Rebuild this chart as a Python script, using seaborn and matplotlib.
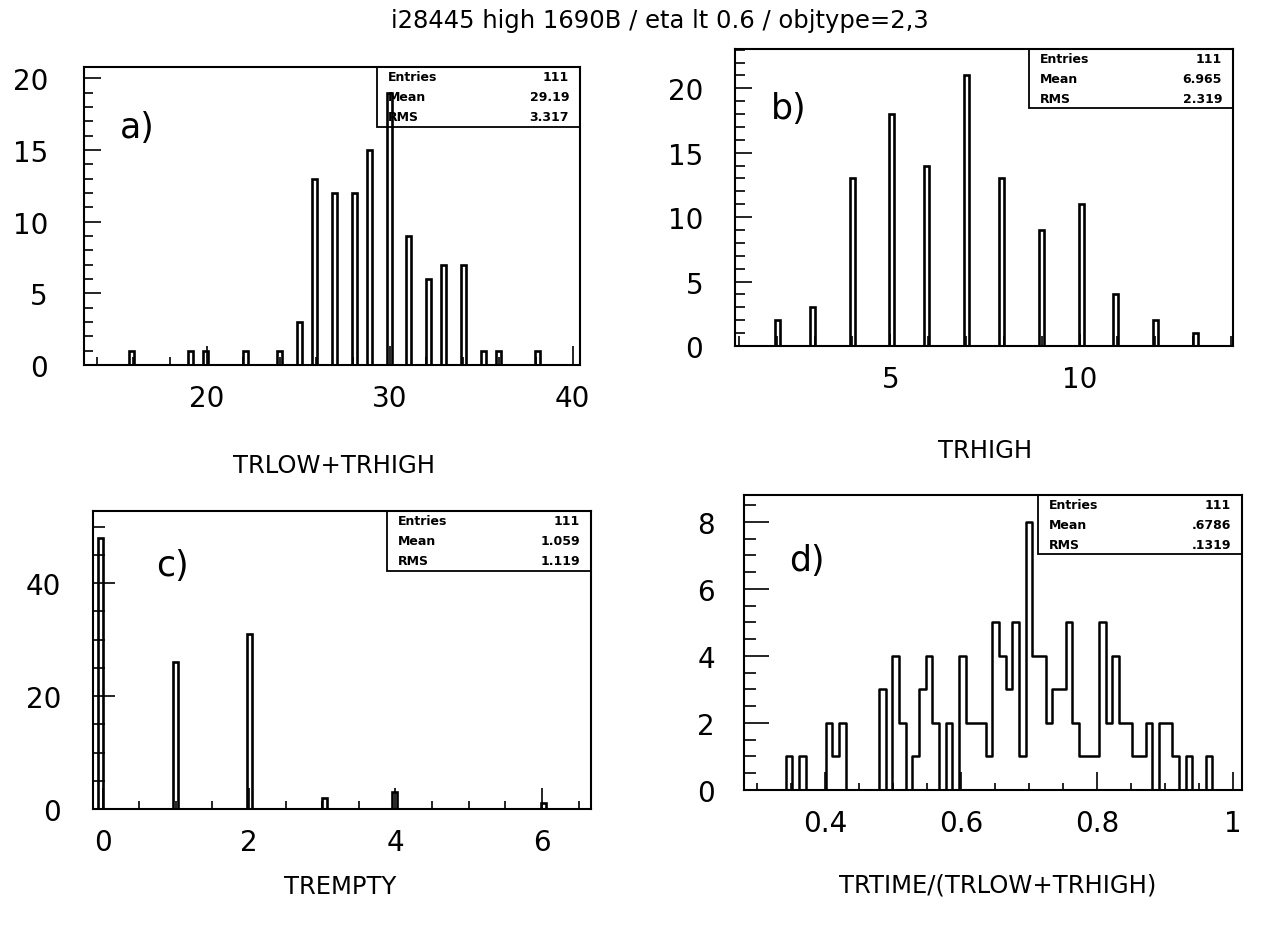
import numpy as np
import pandas as pd
import matplotlib
matplotlib.use("Agg")
import matplotlib.pyplot as plt
import seaborn as sns
from matplotlib.ticker import MultipleLocator, FuncFormatter
from matplotlib.patches import Rectangle

# ---------------- data ----------------
title = "i28445 high 1690B / eta lt 0.6 / objtype=2,3"

# a) TRLOW+TRHIGH
a_values = [16, 19, 20, 22, 24, 25, 26, 27, 28, 29, 30, 31, 32, 33, 34, 35, 36, 38]
a_counts = [1, 1, 1, 1, 1, 3, 13, 12, 12, 15, 19, 9, 6, 7, 7, 1, 1, 1]
a_stats = ["111", "29.19", "3.317"]

# b) TRHIGH
b_values = [2, 3, 4, 5, 6, 7, 8, 9, 10, 11, 12, 13]
b_counts = [2, 3, 13, 18, 14, 21, 13, 9, 11, 4, 2, 1]
b_stats = ["111", "6.965", "2.319"]

# c) TREMPTY
c_values = [0, 1, 2, 3, 4, 6]
c_counts = [48, 26, 31, 2, 3, 1]
c_stats = ["111", "1.059", "1.119"]

# d) TRTIME/(TRLOW+TRHIGH)  (bin centres, counts)
d_values = [0.3472, 0.3668, 0.4060, 0.4158, 0.4256, 0.4844, 0.5040, 0.5138,
            0.5334, 0.5432, 0.5530, 0.5628, 0.5824, 0.6020, 0.6118, 0.6216,
            0.6314, 0.6412, 0.6510, 0.6608, 0.6706, 0.6804, 0.6902, 0.7000,
            0.7098, 0.7196, 0.7294, 0.7392, 0.7490, 0.7588, 0.7686, 0.7784,
            0.7882, 0.7980, 0.8078, 0.8176, 0.8274, 0.8372, 0.8470, 0.8568,
            0.8666, 0.8764, 0.8960, 0.9058, 0.9156, 0.9352, 0.9646]
d_counts = [1, 1, 2, 1, 2, 3, 4, 2,
            1, 3, 4, 2, 2, 4, 2, 2,
            2, 1, 5, 4, 3, 5, 1, 8,
            4, 4, 2, 3, 3, 5, 2, 1,
            1, 1, 5, 2, 4, 2, 2, 1,
            1, 2, 2, 2, 1, 1, 1]
d_stats = ["111", ".6786", ".1319"]

stat_names = ["Entries", "Mean", "RMS"]
x_titles = ["TRLOW+TRHIGH", "TRHIGH", "TREMPTY", "TRTIME/(TRLOW+TRHIGH)"]
panel_tags = ["a)", "b)", "c)", "d)"]

# ---------------- style ----------------
sns.set_style("white")
plt.rcParams["font.family"] = ["DejaVu Sans"]
plt.rcParams["axes.linewidth"] = 1.5
plt.rcParams["text.color"] = "black"
plt.rcParams["axes.labelcolor"] = "black"
plt.rcParams["xtick.color"] = "black"
plt.rcParams["ytick.color"] = "black"

fig = plt.figure(figsize=(12.63, 9.28), dpi=100)

W, H = 1263.0, 928.0
def axes_rect(l, t, r, b):
    return [l / W, 1 - b / H, (r - l) / W, (b - t) / H]

cfg = [
    dict(vals=a_values, cnts=a_counts, stats=a_stats, rect=axes_rect(84, 68, 580, 366),
         xlim=(13.3, 40.4), ymax=20.8, xmaj=10, xmin=2, ymaj=5, ymin=1,
         xtl=(14, 6), ytl=(12, 6.5), bins=("lin", 100), elem="bars",
         tag=(0.107, 0.80), lab=(0.505, -0.335), ypad=26),
    dict(vals=b_values, cnts=b_counts, stats=b_stats, rect=axes_rect(735, 50, 1233, 347),
         xlim=(0.9, 14.05), ymax=23.05, xmaj=5, xmin=1, ymaj=5, ymin=1,
         xtl=(9, 7), ytl=(12, 7), bins=("lin", 100), elem="bars",
         tag=(0.107, 0.80), lab=(0.502, -0.35), ypad=23),
    dict(vals=c_values, cnts=c_counts, stats=c_stats, rect=axes_rect(93, 512, 591, 810),
         xlim=(-0.13, 6.67), ymax=52.8, xmaj=2, xmin=0.5, ymaj=20, ymin=5,
         xtl=(15, 6), ytl=(16, 8.5), bins=("lin", 100), elem="bars",
         tag=(0.16, 0.82), lab=(0.496, -0.26), ypad=23),
    dict(vals=d_values, cnts=d_counts, stats=d_stats, rect=axes_rect(744, 496, 1242, 791),
         xlim=(0.281, 1.013), ymax=8.8, xmaj=0.2, xmin=0.05, ymaj=2, ymin=0.5,
         xtl=(13, 5), ytl=(18, 8.5), bins=("step", 0.0098, 0.70), elem="step",
         tag=(0.127, 0.78), lab=(0.51, -0.32), ypad=21),
]

for i, c in enumerate(cfg):
    ax = fig.add_axes(c["rect"])
    lo, hi = c["xlim"]
    if c["bins"][0] == "lin":
        edges = np.linspace(lo, hi, c["bins"][1] + 1)
    else:
        w, ref = c["bins"][1], c["bins"][2]
        edges = ref - w / 2 + w * np.arange(-44, 34)
    edges = [float(e) for e in edges]
    df = pd.DataFrame({"value": np.asarray(c["vals"], dtype=float),
                       "count": np.asarray(c["cnts"], dtype=float)})
    lw = 1.9 if c["elem"] == "bars" else 1.8
    sns.histplot(data=df, x="value", weights="count", bins=edges, element=c["elem"],
                 fill=False, color="black", linewidth=lw, ax=ax)
    ax.set_xlim(lo, hi)
    ax.set_ylim(0, c["ymax"])
    ax.set_ylabel("")
    ax.set_xlabel(x_titles[i], fontsize=17.5, color="black")
    ax.xaxis.set_label_coords(*c["lab"])
    ax.xaxis.label.set_va("center")

    for s in ax.spines.values():
        s.set_visible(True)
        s.set_color("black")
        s.set_linewidth(1.5)

    ax.xaxis.set_major_locator(MultipleLocator(c["xmaj"]))
    ax.xaxis.set_minor_locator(MultipleLocator(c["xmin"]))
    ax.yaxis.set_major_locator(MultipleLocator(c["ymaj"]))
    ax.yaxis.set_minor_locator(MultipleLocator(c["ymin"]))
    ax.xaxis.set_major_formatter(FuncFormatter(lambda v, p: "%g" % round(v, 6)))
    ax.tick_params(axis="both", which="both", direction="in", colors="black",
                   top=False, right=False, bottom=True, left=True, width=1.2)
    ax.tick_params(axis="x", which="major", length=c["xtl"][0], pad=14, labelsize=20)
    ax.tick_params(axis="x", which="minor", length=c["xtl"][1])
    ax.tick_params(axis="y", which="major", length=c["ytl"][0], pad=c["ypad"], labelsize=20)
    ax.tick_params(axis="y", which="minor", length=c["ytl"][1])
    ax.grid(False)

    # statistics box
    bw, bh = 0.41, 0.20
    ax.add_patch(Rectangle((1 - bw, 1 - bh), bw, bh, transform=ax.transAxes,
                           fill=False, edgecolor="black", linewidth=1.3, clip_on=False,
                           zorder=5))
    for j, (nm, val) in enumerate(zip(stat_names, c["stats"])):
        yy = 1 - bh * (1 + 2 * j) / 6.0
        ax.text(1 - bw + 0.022, yy, nm, transform=ax.transAxes, fontsize=9,
                fontweight="bold", ha="left", va="center", zorder=6)
        ax.text(1 - 0.022, yy, val, transform=ax.transAxes, fontsize=9,
                fontweight="bold", ha="right", va="center", zorder=6)

    ax.text(c["tag"][0], c["tag"][1], panel_tags[i], transform=ax.transAxes,
            fontsize=25, ha="center", va="center")

fig.text(0.5226, 0.977, title, fontsize=17.5, ha="center", va="center")

fig.savefig("out.png", dpi=100, facecolor="white")
